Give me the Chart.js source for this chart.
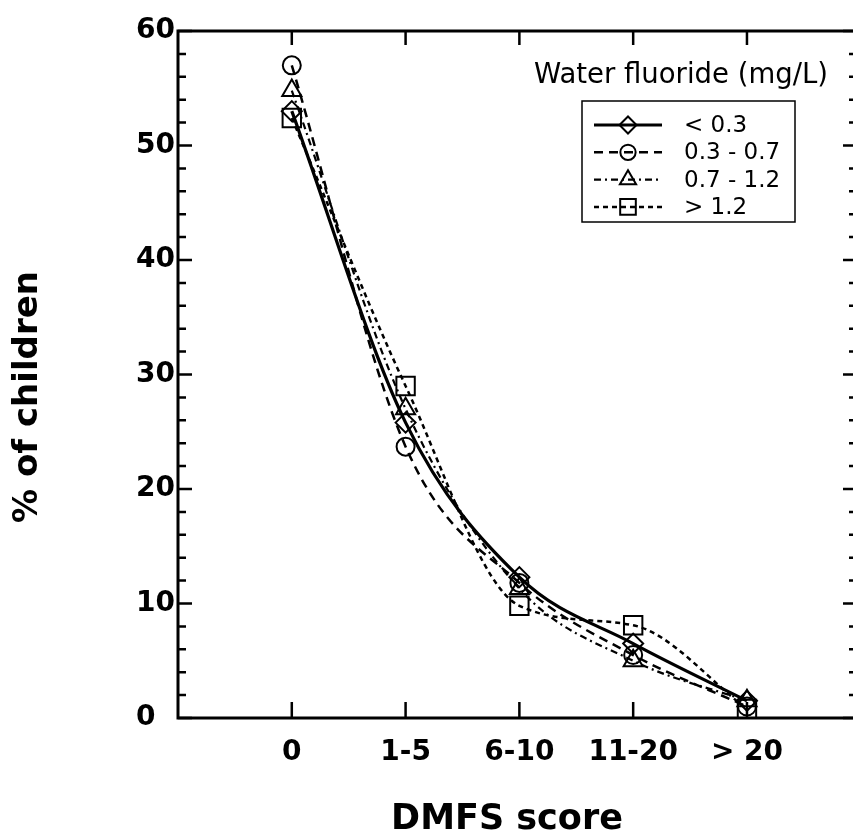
<!DOCTYPE html>
<html>
<head>
<meta charset="utf-8">
<script src="https://cdn.jsdelivr.net/npm/chart.js@4.4.0/dist/chart.umd.min.js"></script>
<style>
html, body { margin: 0; padding: 0; background: #fff; overflow: hidden; }
canvas { display: block; }
</style>
</head>
<body>
<canvas id="dmfsChart" width="853" height="838"></canvas>
<script>
// values
const categories = ['0', '1-5', '6-10', '11-20', '> 20'];
const seriesNames = ['< 0.3', '0.3 - 0.7', '0.7 - 1.2', '> 1.2'];
const below03 = [53, 25.8, 12.3, 6.5, 1.5];
const from03to07 = [57, 23.7, 11.8, 5.5, 1.0];
const from07to12 = [54.8, 27, 11.3, 5.0, 1.5];
const above12 = [52.4, 29, 9.8, 8.1, 0.8];
const yTicks = [0, 10, 20, 30, 40, 50, 60];

const FONT = '"DejaVu Sans", sans-serif';

function toPoints(values) {
    return values.map(function(v, i) { return { x: i, y: v }; });
}

const styles = [
    { pointStyle: 'rectRot', radius: 10, dash: [], width: 3.2 },
    { pointStyle: 'circle', radius: 9, dash: [9, 6], width: 2.5 },
    { pointStyle: 'triangle', radius: 11, dash: [7, 4, 2, 4], width: 2.2 },
    { pointStyle: 'rect', radius: 13, dash: [5, 4], width: 2.5 }
];
const seriesValues = [below03, from03to07, from07to12, above12];

const datasets = seriesValues.map(function(vals, i) {
    const s = styles[i];
    return {
        label: seriesNames[i],
        data: toPoints(vals),
        borderColor: '#000',
        backgroundColor: 'rgba(0,0,0,0)',
        borderWidth: s.width,
        borderDash: s.dash,
        cubicInterpolationMode: 'monotone',
        pointStyle: s.pointStyle,
        pointRadius: s.radius,
        pointBorderWidth: 2,
        pointBorderColor: '#000',
        pointBackgroundColor: 'rgba(0,0,0,0)'
    };
});

function drawMarker(ctx, style, x, y, r) {
    ctx.beginPath();
    if (style === 'circle') {
        ctx.arc(x, y, r, 0, Math.PI * 2);
    } else if (style === 'rectRot') {
        ctx.moveTo(x - r, y); ctx.lineTo(x, y - r); ctx.lineTo(x + r, y); ctx.lineTo(x, y + r);
        ctx.closePath();
    } else if (style === 'triangle') {
        ctx.moveTo(x, y - r);
        ctx.lineTo(x + r * Math.sin(Math.PI * 2 / 3), y + r / 2);
        ctx.lineTo(x - r * Math.sin(Math.PI * 2 / 3), y + r / 2);
        ctx.closePath();
    } else {
        const h = r * Math.SQRT1_2;
        ctx.rect(x - h, y - h, 2 * h, 2 * h);
    }
    ctx.stroke();
}

// frame (right side falls off the page), inward ticks, axis titles, boxed legend
const framePlugin = {
    id: 'frame',
    afterDraw: function(chart) {
        const ctx = chart.ctx;
        const a = chart.chartArea;
        const xs = chart.scales.x;
        const ys = chart.scales.y;
        const edge = chart.width;
        ctx.save();
        ctx.strokeStyle = '#000';
        ctx.lineWidth = 3;
        ctx.setLineDash([]);
        ctx.beginPath();
        ctx.moveTo(edge, a.top);
        ctx.lineTo(a.left, a.top);
        ctx.lineTo(a.left, a.bottom);
        ctx.lineTo(edge, a.bottom);
        ctx.stroke();

        ctx.lineWidth = 2.5;
        ctx.beginPath();
        for (let v = 0; v <= 60; v += 2) {
            const py = ys.getPixelForValue(v);
            const len = v % 10 === 0 ? 14 : 8;
            ctx.moveTo(a.left, py); ctx.lineTo(a.left + len, py);
            ctx.moveTo(edge + 4, py); ctx.lineTo(edge + 4 - len, py);
        }
        categories.forEach(function(c, i) {
            const px = xs.getPixelForValue(i);
            ctx.moveTo(px, a.bottom); ctx.lineTo(px, a.bottom - 16);
            ctx.moveTo(px, a.top); ctx.lineTo(px, a.top + 14);
        });
        ctx.stroke();

        // axis titles
        ctx.fillStyle = '#000';
        ctx.textAlign = 'center';
        ctx.textBaseline = 'middle';
        ctx.font = 'bold 35px ' + FONT;
        ctx.fillText('DMFS score', 507, 820);
        ctx.save();
        ctx.translate(28, 397);
        ctx.rotate(-Math.PI / 2);
        ctx.font = 'bold 34px ' + FONT;
        ctx.fillText('% of children', 0, 0);
        ctx.restore();

        // legend
        ctx.textAlign = 'left';
        ctx.font = '500 27.5px ' + FONT;
        ctx.fillText('Water fluoride (mg/L)', 534, 76);
        ctx.lineWidth = 1.5;
        ctx.strokeRect(582, 101, 213, 121);
        ctx.font = '23px ' + FONT;
        chart.data.datasets.forEach(function(ds, i) {
            const ly = 125 + i * 27.3;
            ctx.lineWidth = ds.borderWidth;
            ctx.setLineDash(ds.borderDash);
            ctx.beginPath();
            ctx.moveTo(594, ly); ctx.lineTo(662, ly);
            ctx.stroke();
            ctx.setLineDash([]);
            ctx.lineWidth = 2;
            drawMarker(ctx, ds.pointStyle, 628, ly, ds.pointRadius * 0.85);
            ctx.fillText(ds.label, 684, ly + 1);
        });
        ctx.restore();
    }
};

new Chart(document.getElementById('dmfsChart').getContext('2d'), {
    type: 'line',
    data: { datasets: datasets },
    options: {
        responsive: false,
        animation: false,
        layout: { padding: { left: 136, top: 31, right: 0, bottom: 0 } },
        plugins: {
            legend: { display: false },
            tooltip: { enabled: false }
        },
        scales: {
            x: {
                type: 'linear',
                min: -1,
                max: 4.8,
                grid: { display: false },
                border: { display: false },
                afterFit: function(scale) { scale.height = 120; },
                ticks: {
                    stepSize: 1,
                    autoSkip: false,
                    maxRotation: 0,
                    padding: 10,
                    color: '#000',
                    font: { family: FONT, size: 28, weight: 'bold' },
                    callback: function(v) { return categories[v] !== undefined ? categories[v] : ''; }
                }
            },
            y: {
                min: yTicks[0],
                max: yTicks[yTicks.length - 1],
                grid: { display: false },
                border: { display: false },
                afterFit: function(scale) { scale.width = 42; },
                afterBuildTicks: function(scale) { scale.ticks = yTicks.map(function(v) { return { value: v }; }); },
                ticks: {
                    crossAlign: 'far',
                    color: '#000',
                    font: { family: FONT, size: 28, weight: 'bold' }
                }
            }
        }
    },
    plugins: [framePlugin]
});
</script>
</body>
</html>
